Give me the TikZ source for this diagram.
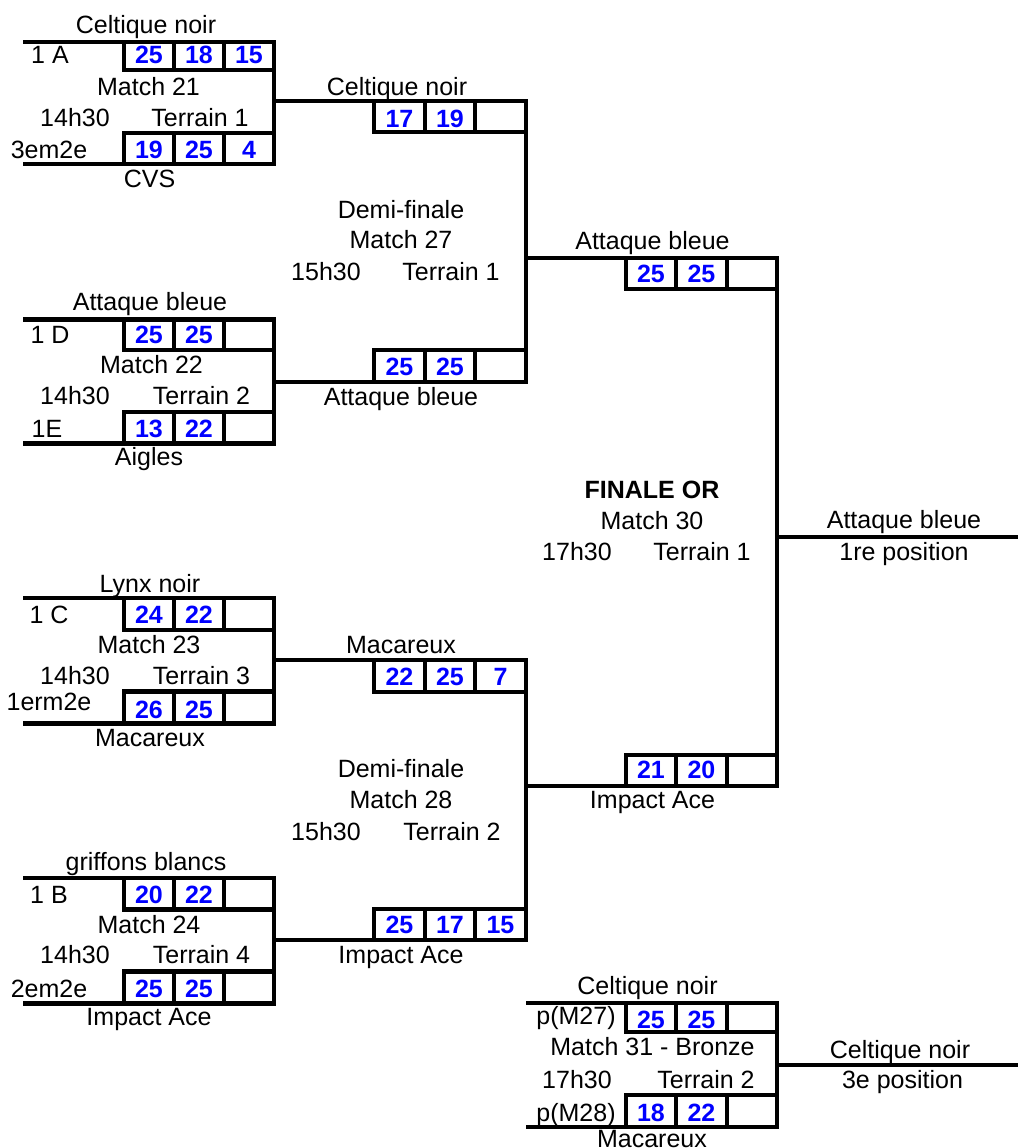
\documentclass[tikz,border=0pt]{standalone}
\usepackage{fontspec}
\setmainfont{Liberation Sans}
\begin{document}
\begin{tikzpicture}[x=0.5pt,y=-0.5pt,line width=2.4pt,
  font=\fontsize{12.5}{15}\selectfont,
  lbl/.style={anchor=base,inner sep=0pt},
  pts/.style={lbl,text=blue,font=\fontsize{12.5}{15}\selectfont\bfseries}]
\useasboundingbox (0,0) rectangle (1018,1148);
\clip (0,0) rectangle (1018,1148);
% match 21
\draw (23,42) -- (274,42) -- (274,164) -- (23,164);
\draw (124,42) rectangle (274,70) (174,42) -- (174,70) (224,42) -- (224,70);
\draw (124,133) rectangle (274,164) (174,133) -- (174,164) (224,133) -- (224,164);
\node [lbl] (t21a) at (146,33) {Celtique noir};
\node [lbl] (s21a) at (50,63) {1 A};
\node [pts] (p21a1) at (149,63) {25};
\node [pts] (p21a2) at (199,63) {18};
\node [pts] (p21a3) at (249,63) {15};
\node [lbl] (m21) at (148.5,95) {Match 21};
\node [lbl] (h21) at (75,126) {14h30};
\node [lbl] (f21) at (200,126) {Terrain 1};
\node [lbl] (s21b) at (49,158) {3em2e};
\node [pts] (p21b1) at (149,158) {19};
\node [pts] (p21b2) at (199,158) {25};
\node [pts] (p21b3) at (249,158) {4};
\node [lbl] (t21b) at (149.5,187) {CVS};
% match 22
\draw (23,319.5) -- (274,319.5) -- (274,443.5) -- (23,443.5);
\draw (124,319.5) rectangle (274,350) (174,319.5) -- (174,350) (224,319.5) -- (224,350);
\draw (124,412) rectangle (274,443.5) (174,412) -- (174,443.5) (224,412) -- (224,443.5);
\node [lbl] (t22a) at (150,310) {Attaque bleue};
\node [lbl] (s22a) at (50,343) {1 D};
\node [pts] (p22a1) at (149,343) {25};
\node [pts] (p22a2) at (199,343) {25};
\node [lbl] (m22) at (151.5,373) {Match 22};
\node [lbl] (h22) at (75,404) {14h30};
\node [lbl] (f22) at (201.5,404) {Terrain 2};
\node [lbl] (s22b) at (47,437) {1E};
\node [pts] (p22b1) at (149,437) {13};
\node [pts] (p22b2) at (199,437) {22};
\node [lbl] (t22b) at (149,465) {Aigles};
% match 23
\draw (23,598) -- (274,598) -- (274,723.5) -- (23,723.5);
\draw (124,598) rectangle (274,630) (174,598) -- (174,630) (224,598) -- (224,630);
\draw (124,691.5) rectangle (274,723.5) (174,691.5) -- (174,723.5) (224,691.5) -- (224,723.5);
\node [lbl] (t23a) at (150,592) {Lynx noir};
\node [lbl] (s23a) at (49,623) {1 C};
\node [pts] (p23a1) at (149,623) {24};
\node [pts] (p23a2) at (199,623) {22};
\node [lbl] (m23) at (149,653) {Match 23};
\node [lbl] (h23) at (75,684) {14h30};
\node [lbl] (f23) at (201.5,684) {Terrain 3};
\node [lbl] (s23b) at (49,710) {1erm2e};
\node [pts] (p23b1) at (149,718) {26};
\node [pts] (p23b2) at (199,718) {25};
\node [lbl] (t23b) at (150,746) {Macareux};
% match 24
\draw (23,878) -- (274,878) -- (274,1003.5) -- (23,1003.5);
\draw (124,878) rectangle (274,909.5) (174,878) -- (174,909.5) (224,878) -- (224,909.5);
\draw (124,971.5) rectangle (274,1003.5) (174,971.5) -- (174,1003.5) (224,971.5) -- (224,1003.5);
\node [lbl] (t24a) at (146,870) {griffons blancs};
\node [lbl] (s24a) at (49,903) {1 B};
\node [pts] (p24a1) at (149,903) {20};
\node [pts] (p24a2) at (199,903) {22};
\node [lbl] (m24) at (149,933) {Match 24};
\node [lbl] (h24) at (75,963) {14h30};
\node [lbl] (f24) at (201.5,963) {Terrain 4};
\node [lbl] (s24b) at (49,997) {2em2e};
\node [pts] (p24b1) at (149,997) {25};
\node [pts] (p24b2) at (199,997) {25};
\node [lbl] (t24b) at (149,1025) {Impact Ace};
% demi-finale 27
\draw (274,101) -- (526,101) -- (526,382) -- (274,382);
\draw (374,101) rectangle (526,132) (425,101) -- (425,132) (475,101) -- (475,132);
\draw (374,350) rectangle (526,382) (425,350) -- (425,382) (475,350) -- (475,382);
\node [lbl] (t27a) at (397,95) {Celtique noir};
\node [pts] (p27a1) at (399.5,127) {17};
\node [pts] (p27a2) at (450,127) {19};
\node [lbl] (d27) at (401,218) {Demi-finale};
\node [lbl] (m27) at (401,248) {Match 27};
\node [lbl] (h27) at (326,280) {15h30};
\node [lbl] (f27) at (451,280) {Terrain 1};
\node [pts] (p27b1) at (399.5,375) {25};
\node [pts] (p27b2) at (450,375) {25};
\node [lbl] (t27b) at (401,405) {Attaque bleue};
% demi-finale 28
\draw (274,660) -- (526,660) -- (526,940) -- (274,940);
\draw (374,660) rectangle (526,692) (425,660) -- (425,692) (475,660) -- (475,692);
\draw (374,909) rectangle (526,940) (425,909) -- (425,940) (475,909) -- (475,940);
\node [lbl] (t28a) at (401,653) {Macareux};
\node [pts] (p28a1) at (399.5,685) {22};
\node [pts] (p28a2) at (450,685) {25};
\node [pts] (p28a3) at (500.5,685) {7};
\node [lbl] (d28) at (401,777) {Demi-finale};
\node [lbl] (m28) at (401,808) {Match 28};
\node [lbl] (h28) at (326,840) {15h30};
\node [lbl] (f28) at (452,840) {Terrain 2};
\node [pts] (p28b1) at (399.5,933) {25};
\node [pts] (p28b2) at (450,933) {17};
\node [pts] (p28b3) at (500.5,933) {15};
\node [lbl] (t28b) at (401,963) {Impact Ace};
% finale or
\draw (526,258) -- (777,258) -- (777,786) -- (526,786);
\draw (626,258) rectangle (777,289) (676,258) -- (676,289) (727,258) -- (727,289);
\draw (626,755) rectangle (777,786) (676,755) -- (676,786) (727,755) -- (727,786);
\draw (777,537) -- (1018,537);
\node [lbl] (t30a) at (652.5,249) {Attaque bleue};
\node [pts] (p30a1) at (651,282) {25};
\node [pts] (p30a2) at (701.5,282) {25};
\node [lbl,font=\fontsize{12.5}{15}\selectfont\bfseries] (d30) at (652,498) {FINALE OR};
\node [lbl] (m30) at (652,529) {Match 30};
\node [lbl] (h30) at (577,560) {17h30};
\node [lbl] (f30) at (702,560) {Terrain 1};
\node [pts] (p30b1) at (651,778) {21};
\node [pts] (p30b2) at (701.5,778) {20};
\node [lbl] (t30b) at (652.5,808) {Impact Ace};
\node [lbl] (w30a) at (904,528) {Attaque bleue};
\node [lbl] (w30b) at (904,560) {1re position};
% bronze 31
\draw (526,1003) -- (777,1003) -- (777,1127) -- (526,1127);
\draw (626,1003) rectangle (777,1032) (676,1003) -- (676,1032) (727,1003) -- (727,1032);
\draw (626,1095) rectangle (777,1127) (676,1095) -- (676,1127) (727,1095) -- (727,1127);
\draw (777,1065) -- (1018,1065);
\node [lbl] (t31a) at (647.5,994) {Celtique noir};
\node [lbl] (s31a) at (576,1024) {p(M27)};
\node [pts] (p31a1) at (651,1028) {25};
\node [pts] (p31a2) at (701.5,1028) {25};
\node [lbl] (m31) at (652.5,1055) {Match 31 - Bronze};
\node [lbl] (h31) at (577,1088) {17h30};
\node [lbl] (f31) at (706,1088) {Terrain 2};
\node [lbl] (s31b) at (576,1121) {p(M28)};
\node [pts] (p31b1) at (651,1121) {18};
\node [pts] (p31b2) at (701.5,1121) {22};
\node [lbl] (t31b) at (652,1147) {Macareux};
\node [lbl] (w31a) at (900,1058) {Celtique noir};
\node [lbl] (w31b) at (902.5,1088) {3e position};
\end{tikzpicture}
\end{document}
